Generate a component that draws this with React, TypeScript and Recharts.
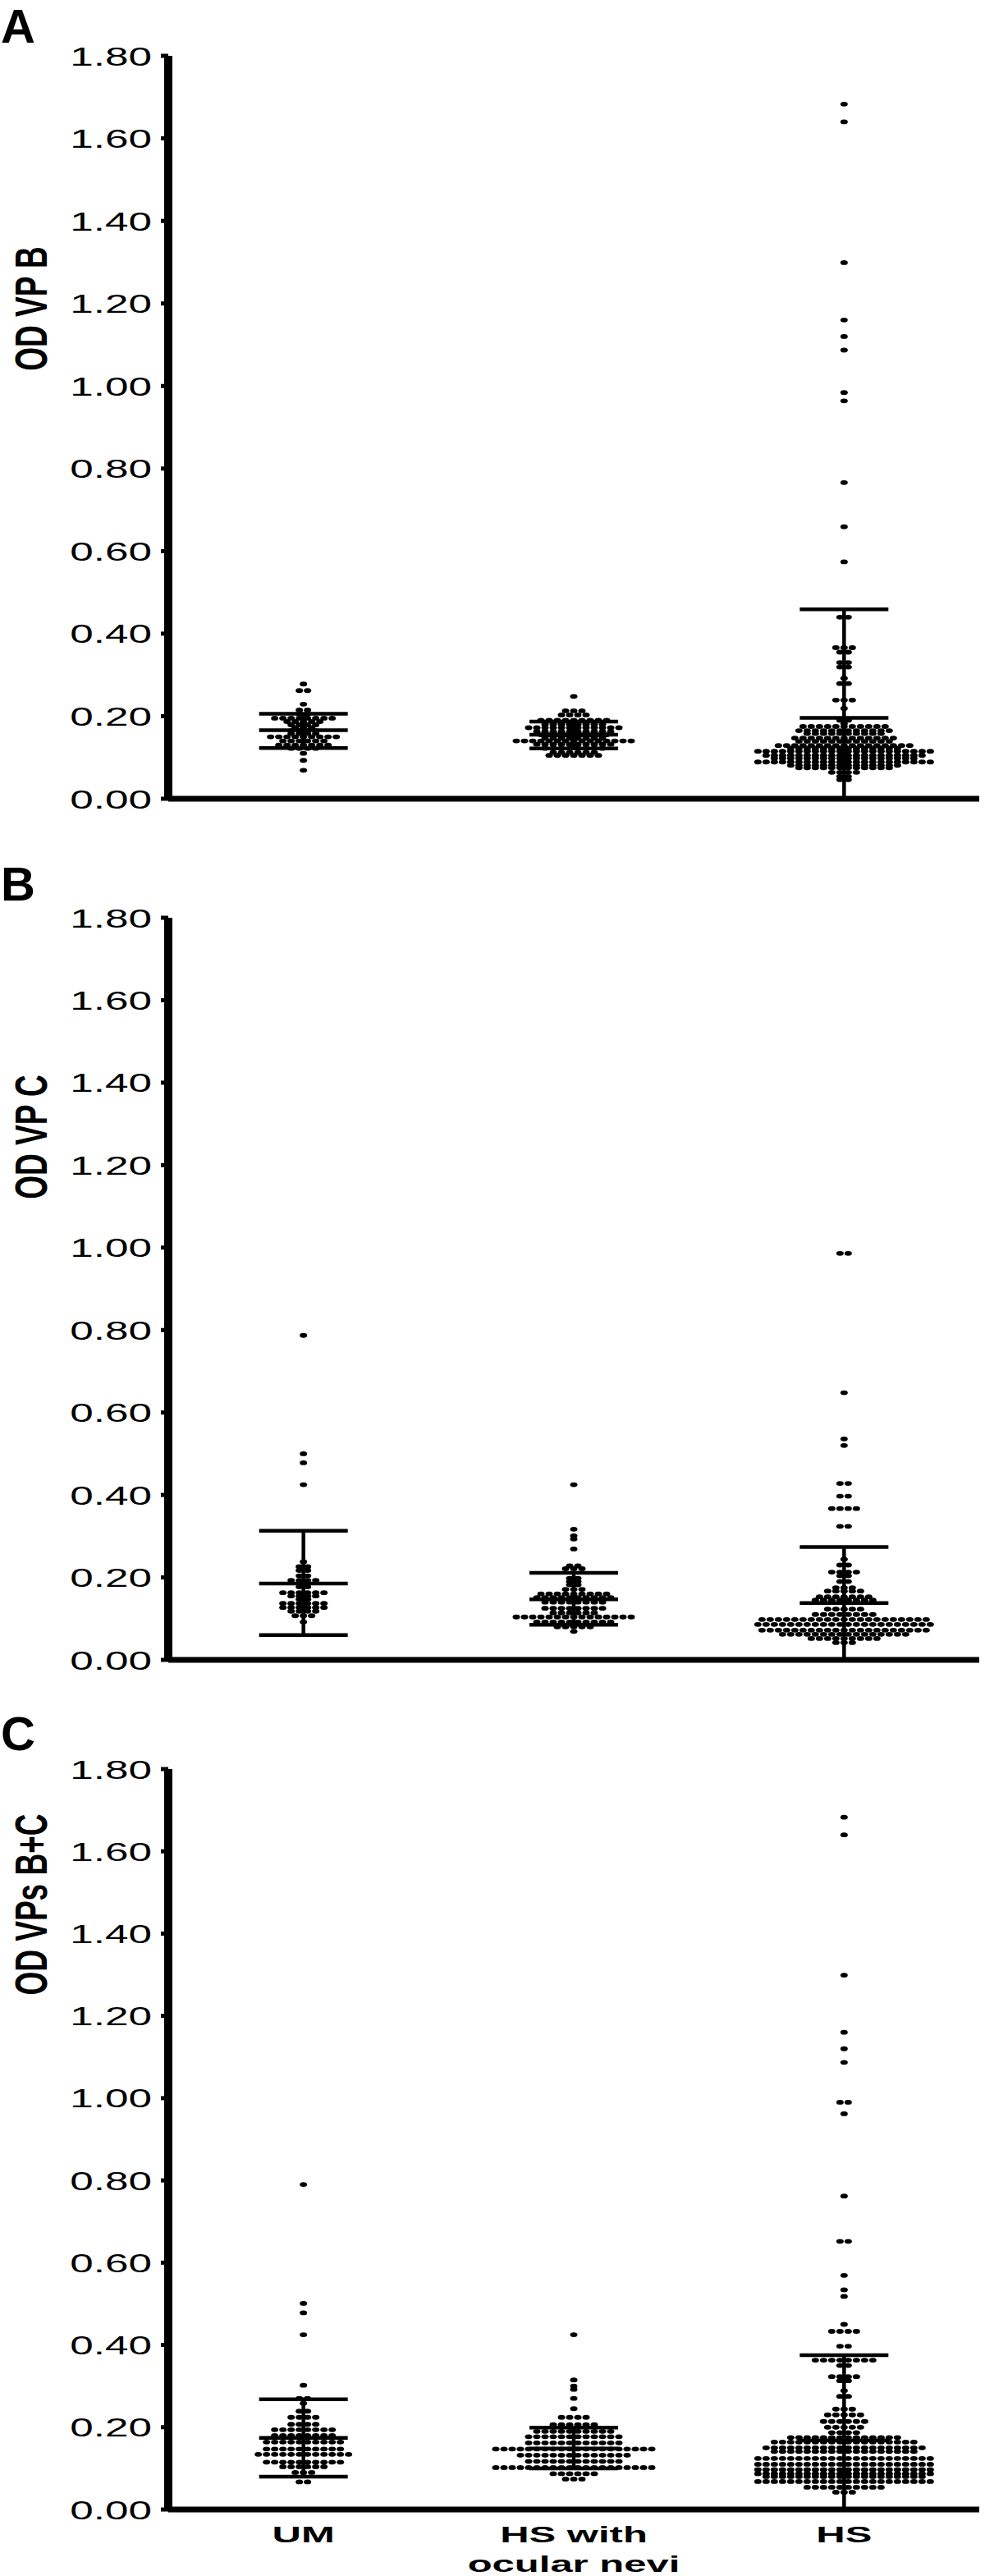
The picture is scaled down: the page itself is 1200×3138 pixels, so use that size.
import React from "react"
import { ScatterChart, Scatter, XAxis, YAxis, ErrorBar, Label } from "recharts"

// [value, number of dots drawn at that value]
type Row = [number, number]

const categories = ["UM", "HS with\nocular nevi", "HS"]
const yTicks = [0, 0.2, 0.4, 0.6, 0.8, 1.0, 1.2, 1.4, 1.6, 1.8]

// A: OD VP B
const umA: Row[] = [
  [0.278, 1], [0.262, 2], [0.229, 1], [0.215, 2], [0.205, 2], [0.195, 8], [0.187, 5], [0.179, 4],
  [0.172, 3], [0.165, 4], [0.158, 4], [0.15, 9], [0.14, 6], [0.13, 7], [0.122, 4], [0.11, 1],
  [0.093, 1], [0.069, 1],
]
const neviA: Row[] = [
  [0.248, 1], [0.213, 3], [0.203, 4], [0.19, 9], [0.18, 8], [0.172, 12], [0.163, 10], [0.155, 9],
  [0.147, 8], [0.14, 15], [0.132, 10], [0.122, 8], [0.112, 6], [0.105, 7],
]
const hsA: Row[] = [
  [1.683, 1], [1.64, 1], [1.299, 1], [1.16, 1], [1.12, 1], [1.087, 1], [0.984, 1], [0.964, 1],
  [0.766, 1], [0.659, 1], [0.574, 1], [0.44, 2], [0.366, 3], [0.355, 2], [0.33, 2], [0.319, 2],
  [0.292, 1], [0.279, 2], [0.239, 3], [0.219, 1], [0.19, 2], [0.182, 1], [0.175, 11], [0.165, 12],
  [0.158, 10], [0.147, 13], [0.139, 12], [0.129, 17], [0.122, 14], [0.115, 22], [0.105, 20],
  [0.098, 18], [0.089, 22], [0.081, 14], [0.075, 12], [0.064, 4], [0.054, 2], [0.046, 2],
]
const meanA = [0.166, 0.155, 0.196]
const sdHighA = [0.206, 0.187, 0.459]
const sdLowA = [0.123, 0.122, 0]

// B: OD VP C
const umB: Row[] = [
  [0.787, 1], [0.5, 1], [0.478, 1], [0.425, 1], [0.238, 1], [0.226, 2], [0.217, 2], [0.204, 2],
  [0.193, 4], [0.177, 2], [0.163, 6], [0.155, 4], [0.147, 2], [0.137, 6], [0.127, 6], [0.118, 4],
  [0.107, 3], [0.092, 1],
]
const neviB: Row[] = [
  [0.425, 1], [0.317, 1], [0.301, 1], [0.293, 1], [0.269, 1], [0.228, 2], [0.221, 3], [0.198, 2],
  [0.19, 2], [0.182, 2], [0.171, 3], [0.16, 9], [0.151, 10], [0.14, 8], [0.125, 8], [0.114, 6],
  [0.104, 15], [0.092, 10], [0.08, 5], [0.069, 1],
]
const hsB: Row[] = [
  [0.986, 2], [0.648, 1], [0.536, 1], [0.52, 1], [0.428, 2], [0.397, 2], [0.367, 4], [0.324, 2],
  [0.244, 1], [0.23, 2], [0.213, 4], [0.204, 2], [0.19, 2], [0.175, 3], [0.167, 5], [0.153, 7],
  [0.145, 8], [0.123, 5], [0.11, 8], [0.098, 21], [0.086, 22], [0.072, 21], [0.062, 16],
  [0.052, 9], [0.042, 3],
]
const meanB = [0.185, 0.147, 0.138]
const sdHighB = [0.313, 0.211, 0.274]
const sdLowB = [0.06, 0.085, 0]

// C: OD VPs B+C
const umC: Row[] = [
  [0.79, 1], [0.501, 1], [0.478, 1], [0.425, 1], [0.302, 1], [0.27, 2], [0.258, 1], [0.239, 2],
  [0.224, 4], [0.207, 4], [0.194, 8], [0.18, 8], [0.164, 10], [0.147, 10], [0.134, 12],
  [0.115, 10], [0.104, 6], [0.09, 3], [0.067, 2],
]
const neviC: Row[] = [
  [0.425, 1], [0.315, 1], [0.3, 1], [0.292, 1], [0.27, 1], [0.245, 1], [0.224, 4], [0.206, 6],
  [0.19, 10], [0.177, 12], [0.162, 12], [0.147, 20], [0.132, 14], [0.117, 12], [0.102, 20],
  [0.087, 6], [0.074, 3],
]
const hsC: Row[] = [
  [1.683, 1], [1.64, 1], [1.299, 1], [1.16, 1], [1.12, 1], [1.087, 1], [0.99, 2], [0.962, 1],
  [0.762, 1], [0.652, 2], [0.569, 1], [0.534, 1], [0.518, 1], [0.45, 1], [0.433, 4], [0.397, 2],
  [0.363, 8], [0.35, 2], [0.323, 4], [0.313, 2], [0.289, 1], [0.275, 2], [0.244, 3], [0.23, 5],
  [0.214, 6], [0.2, 5], [0.187, 4], [0.175, 14], [0.164, 18], [0.15, 20], [0.141, 18],
  [0.124, 22], [0.11, 22], [0.097, 22], [0.087, 22], [0.08, 20], [0.068, 22], [0.054, 10],
  [0.042, 3],
]
const meanC = [0.174, 0.148, 0.168]
const sdHighC = [0.268, 0.199, 0.375]
const sdLowC = [0.08, 0.1, 0]

const FONT = "'Liberation Sans', Arial, Helvetica, sans-serif"
const DOT_GAP = 10
const BAR_HALF = 54

// spread each row of dots sideways around the group centre (scatter dot plot)
const toPoints = (groups: Row[][]) =>
  groups.flatMap((rows, g) =>
    rows.flatMap(([value, count]) =>
      Array.from({ length: count }, (_, k) => ({
        x: g + 0.5,
        y: value,
        dx: (k - (count - 1) / 2) * DOT_GAP,
      }))
    )
  )

const toSummary = (mean: number[], high: number[], low: number[]) =>
  mean.map((m, g) => ({ x: g + 0.5, y: m, err: [m - low[g], high[g] - m] }))

const Dot = (props: any) => (
  <ellipse cx={props.cx + (props.payload?.dx ?? 0)} cy={props.cy} rx={4.5} ry={2.9} fill="#000" />
)

const MeanLine = (props: any) => (
  <line
    x1={props.cx - BAR_HALF}
    x2={props.cx + BAR_HALF}
    y1={props.cy}
    y2={props.cy}
    stroke="#000"
    strokeWidth={4.5}
  />
)

const YTick = (props: any) => (
  <g transform={`translate(${props.x},${props.y}) scale(1.6,1)`}>
    <text x={0} y={11.5} textAnchor="end" fontSize={32} fontFamily={FONT} fill="#000">
      {Number(props.payload.value).toFixed(2)}
    </text>
  </g>
)

const XTick = (props: any) => {
  const lines = categories[Math.floor(props.payload.value)].split("\n")
  return (
    <g transform={`translate(${props.x},${props.y}) scale(1.75,1)`}>
      {lines.map((line, i) => (
        <text
          key={i}
          x={0}
          y={40 + i * 36}
          textAnchor="middle"
          fontSize={28}
          fontWeight="bold"
          fontFamily={FONT}
          fill="#000"
        >
          {line}
        </text>
      ))}
    </g>
  )
}

type PanelProps = {
  top: number
  height: number
  marginTop: number
  plotHeight: number
  letter: string
  letterY: number
  title: string
  titleY: number
  groups: Row[][]
  mean: number[]
  high: number[]
  low: number[]
  showX?: boolean
}

const Panel = ({
  top,
  height,
  marginTop,
  plotHeight,
  letter,
  letterY,
  title,
  titleY,
  groups,
  mean,
  high,
  low,
  showX,
}: PanelProps) => {
  const points = toPoints(groups)
  const summary = toSummary(mean, high, low)
  return (
    <div style={{ position: "absolute", left: 0, top, width: 1200, height }}>
      <ScatterChart width={1200} height={height} margin={{ top: marginTop, right: 7, bottom: 0, left: 0 }}>
        <XAxis
          type="number"
          dataKey="x"
          domain={[0, 3]}
          ticks={[0.5, 1.5, 2.5]}
          interval={0}
          height={height - marginTop - plotHeight}
          axisLine={{ stroke: "#000", strokeWidth: 7 }}
          tickLine={false}
          tickSize={0}
          tickMargin={0}
          tick={showX ? <XTick /> : false}
        />
        <YAxis
          type="number"
          dataKey="y"
          domain={[0, 1.8]}
          ticks={yTicks}
          interval={0}
          width={205}
          axisLine={{ stroke: "#000", strokeWidth: 10 }}
          tickLine={{ stroke: "#000", strokeWidth: 5 }}
          tickSize={9}
          tickMargin={11}
          tick={<YTick />}
        >
          <Label
            value={title}
            content={() => (
              <g>
                <text x={1} y={letterY} fontSize={58} fontWeight="bold" fontFamily={FONT} fill="#000">
                  {letter}
                </text>
                <g transform={`translate(38,${titleY}) scale(1.5,1) rotate(-90)`}>
                  <text
                    x={0}
                    y={0}
                    textAnchor="middle"
                    dominantBaseline="central"
                    fontSize={37}
                    fontWeight="bold"
                    fontFamily={FONT}
                    fill="#000"
                  >
                    {title}
                  </text>
                </g>
              </g>
            )}
          />
        </YAxis>
        <Scatter data={points} shape={Dot} isAnimationActive={false} />
        <Scatter data={summary} shape={MeanLine} isAnimationActive={false}>
          <ErrorBar
            dataKey="err"
            direction="y"
            width={BAR_HALF}
            strokeWidth={4.5}
            stroke="#000"
            isAnimationActive={false}
          />
        </Scatter>
      </ScatterChart>
    </div>
  )
}

export default function App() {
  return (
    <div style={{ position: "absolute", left: 0, top: 0, width: 1200, height: 3138, background: "#fff" }}>
      <Panel
        top={0}
        height={1040}
        marginTop={68}
        plotHeight={905}
        letter="A"
        letterY={52}
        title="OD VP B"
        titleY={376}
        groups={[umA, neviA, hsA]}
        mean={meanA}
        high={sdHighA}
        low={sdLowA}
      />
      <Panel
        top={1040}
        height={1040}
        marginTop={78}
        plotHeight={904}
        letter="B"
        letterY={57}
        title="OD VP C"
        titleY={345}
        groups={[umB, neviB, hsB]}
        mean={meanB}
        high={sdHighB}
        low={sdLowB}
      />
      <Panel
        top={2080}
        height={1058}
        marginTop={75}
        plotHeight={902}
        letter="C"
        letterY={52}
        title="OD VPs B+C"
        titleY={240}
        groups={[umC, neviC, hsC]}
        mean={meanC}
        high={sdHighC}
        low={sdLowC}
        showX
      />
    </div>
  )
}
